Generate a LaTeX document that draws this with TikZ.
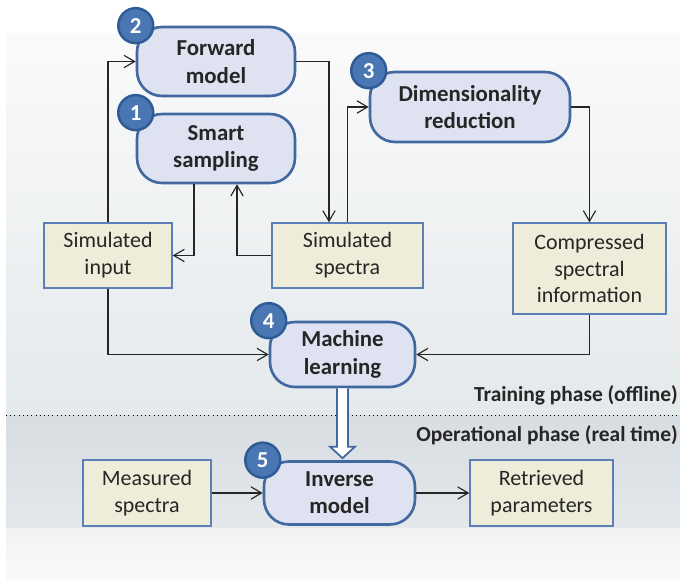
\documentclass[tikz,border=0pt]{standalone}
\usepackage{fontspec}
\setmainfont{Carlito}
\usetikzlibrary{arrows.meta}

\definecolor{procfill}{HTML}{DFE2F1}
\definecolor{procline}{HTML}{41689F}
\definecolor{dotfill}{HTML}{4A76B3}
\definecolor{dotline}{HTML}{2E5B93}
\definecolor{datafill}{HTML}{EDEDD9}
\definecolor{dataline}{HTML}{5B7FB6}
\definecolor{inkgray}{HTML}{262626}

\tikzset{
	procbox/.style={draw=procline, fill=procfill, line width=1.5pt, rounded corners=0.5cm, align=center, text=inkgray, font=\fontsize{13}{15.5}\selectfont\bfseries},
	databox/.style={draw=dataline, fill=datafill, line width=0.8pt, align=center, text=inkgray, font=\fontsize{12.5}{15.3}\selectfont},
	numdot/.style={circle, draw=dotline, fill=dotfill, line width=1.4pt, minimum size=0.7cm, inner sep=0pt, text=white, font=\fontsize{13}{13}\selectfont\bfseries},
	link/.style={-{Straight Barb[length=6pt,width=7pt]}, line width=0.65pt, inkgray},
	phase/.style={anchor=east, text=inkgray, font=\fontsize{12.2}{13}\selectfont\bfseries},
}

\begin{document}
\begin{tikzpicture}[x=0.02cm, y=-0.02cm]
	\useasboundingbox (0,0) rectangle (680,581);
	% background bands
	\fill[white] (0,0) rectangle (680,581);
	\shade[top color=black!2, bottom color={rgb,255:red,228;green,233;blue,236}] (6,34) rectangle (680,415);
	\shade[top color={rgb,255:red,216;green,221;blue,226}, bottom color={rgb,255:red,228;green,232;blue,235}] (6,415) rectangle (680,528);
	\shade[top color=black!5, bottom color=black!2] (6,528) rectangle (680,581);
	% phase separator
	\draw[dotted, thin] (6,415) -- (680,415);
	\node[phase] (train) at (684,395) {Training phase (offline)};
	\node[phase] (oper) at (684,435) {Operational phase (real time)};

	% processing steps
	\node[procbox, minimum width=3.16cm, minimum height=1.38cm] (fwd) at (216,61.5) {Forward\\model};
	\node[procbox, minimum width=3.16cm, minimum height=1.38cm] (smart) at (216,148.5) {Smart\\sampling};
	\node[procbox, minimum width=4cm, minimum height=1.4cm] (dim) at (470,107) {Dimensionality\\reduction};
	\node[procbox, minimum width=2.9cm, minimum height=1.3cm] (ml) at (342.5,354.5) {Machine\\learning};
	\node[procbox, minimum width=3.02cm, minimum height=1.26cm] (inv) at (339.5,493) {Inverse\\model};

	% data boxes
	\node[databox, minimum width=2.56cm, minimum height=1.3cm] (sinput) at (108,255.5) {Simulated\\input};
	\node[databox, minimum width=3.02cm, minimum height=1.3cm] (sspec) at (347.5,255.5) {Simulated\\spectra};
	\node[databox, minimum width=3.06cm, minimum height=1.82cm] (comp) at (589.5,268.5) {Compressed\\spectral\\information};
	\node[databox, minimum width=2.56cm, minimum height=1.32cm] (meas) at (147,493) {Measured\\spectra};
	\node[databox, minimum width=2.86cm, minimum height=1.32cm] (retr) at (541.5,493) {Retrieved\\parameters};

	% step numbers
	\node[numdot] (n1) at ([shift={(0.04,-0.06)}]smart.north west) {1};
	\node[numdot] (n2) at ([shift={(0.04,-0.04)}]fwd.north west) {2};
	\node[numdot] (n3) at ([shift={(0.02,-0.02)}]dim.north west) {3};
	\node[numdot] (n4) at ([shift={(0.02,-0.02)}]ml.north west) {4};
	\node[numdot] (n5) at ([shift={(0.06,-0.04)}]inv.north west) {5};

	% training loop
	\draw[link] (sinput) |- (fwd.west);
	\draw[link] (fwd.east) -| ([xshift=-0.37cm]sspec.north);
	\draw[link] ([xshift=-0.44cm]smart.south) |- (sinput.east);
	\draw[link] (sspec.west) -| ([xshift=0.42cm]smart.south);
	\draw[link] (sspec.north) |- (dim.west);
	\draw[link] (dim.east) -| (comp.north);
	\draw[link] (sinput.south) |- (ml.west);
	\draw[link] (comp.south) |- (ml.east);

	% hand-over from training to operation
	\filldraw[draw=procline, fill=white, line width=1pt]
		([xshift=-0.11cm]ml.south) -- ([xshift=-0.11cm,yshift=0.27cm]ml.south |- inv.north)
		-- ([xshift=-0.25cm,yshift=0.27cm]ml.south |- inv.north) -- ([yshift=0.04cm]ml.south |- inv.north)
		-- ([xshift=0.25cm,yshift=0.27cm]ml.south |- inv.north) -- ([xshift=0.11cm,yshift=0.27cm]ml.south |- inv.north)
		-- ([xshift=0.11cm]ml.south);

	% operational chain
	\draw[link] (meas.east) -- (inv.west);
	\draw[link] (inv.east) -- (retr.west);
\end{tikzpicture}
\end{document}
